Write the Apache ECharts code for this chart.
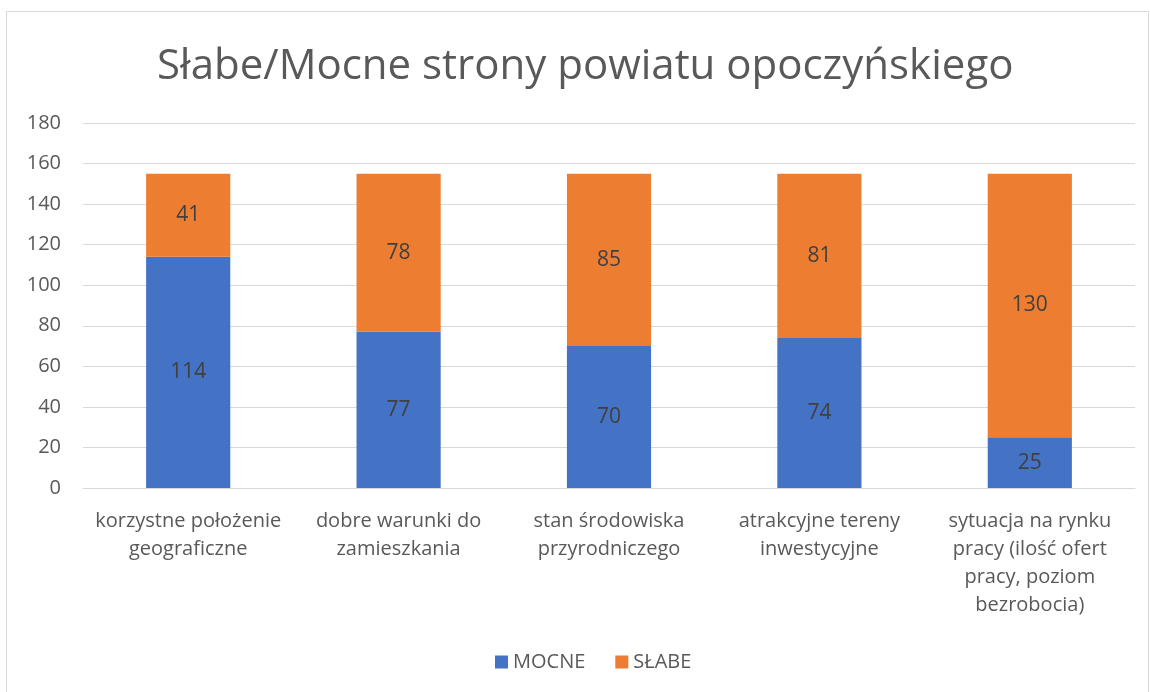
<!DOCTYPE html>
<html>
<head>
<meta charset="utf-8">
<script src="https://cdn.jsdelivr.net/npm/echarts@6/dist/echarts.min.js"></script>
<style>
  html, body { margin: 0; padding: 0; background: #fff; }
  #frame { position: absolute; left: 6px; top: 11px; width: 1141px; height: 700px; border: 1px solid #d9d9d9; }
  #chart { position: absolute; left: 0; top: 0; width: 1150px; height: 692px; }
</style>
</head>
<body>
<div id="frame"></div>
<div id="chart"></div>
<script>
const categories = [
  'korzystne położenie\ngeograficzne',
  'dobre warunki do\nzamieszkania',
  'stan środowiska\nprzyrodniczego',
  'atrakcyjne tereny\ninwestycyjne',
  'sytuacja na rynku\npracy (ilość ofert\npracy, poziom\nbezrobocia)'
]
const mocne = [114, 77, 70, 74, 25]
const slabe = [41, 78, 85, 81, 130]

const font = 'Open Sans'
const chart = echarts.init(document.getElementById('chart'))
chart.setOption({
  animation: false,
  title: {
    text: 'Słabe/Mocne strony powiatu opoczyńskiego',
    left: 152,
    top: 41,
    textStyle: { color: '#595959', fontSize: 42, fontWeight: 'normal', fontFamily: font }
  },
  legend: {
    data: ['MOCNE', 'SŁABE'],
    bottom: 15,
    left: 490,
    icon: 'rect',
    itemWidth: 13,
    itemHeight: 13,
    itemGap: 30,
    textStyle: { color: '#595959', fontSize: 20, fontFamily: font }
  },
  grid: { left: 83, right: 15, top: 123, bottom: 204 },
  xAxis: {
    type: 'category',
    data: categories,
    axisLine: { show: true, lineStyle: { color: '#d9d9d9', width: 1 } },
    axisTick: { show: false },
    axisLabel: { color: '#595959', fontSize: 20, fontFamily: font, lineHeight: 28, margin: 19, interval: 0 }
  },
  yAxis: {
    type: 'value',
    min: 0,
    max: 180,
    interval: 20,
    axisLine: { show: false },
    axisTick: { show: false },
    axisLabel: { color: '#595959', fontSize: 20, fontFamily: font, margin: 22 },
    splitLine: { lineStyle: { color: '#d9d9d9', width: 1 } }
  },
  series: [
    {
      name: 'MOCNE',
      type: 'bar',
      stack: 'total',
      barWidth: '40%',
      data: mocne,
      itemStyle: { color: '#4472c4' },
      label: { show: true, position: 'inside', color: '#404040', fontSize: 21, fontFamily: font }
    },
    {
      name: 'SŁABE',
      type: 'bar',
      stack: 'total',
      data: slabe,
      itemStyle: { color: '#ed7d31' },
      label: { show: true, position: 'inside', color: '#404040', fontSize: 21, fontFamily: font }
    }
  ]
})
</script>
</body>
</html>
